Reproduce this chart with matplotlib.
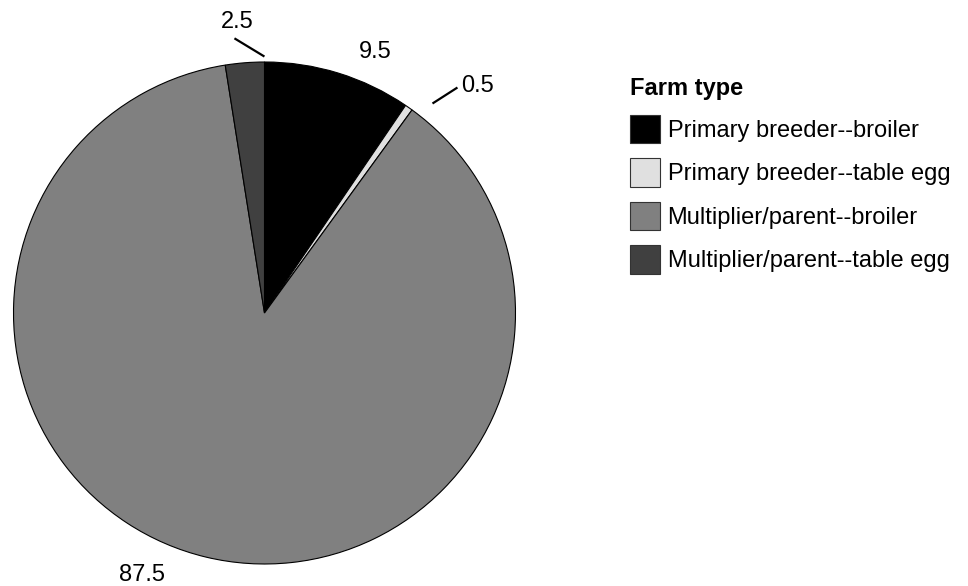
import numpy as np
import matplotlib.pyplot as plt
from matplotlib.patches import Patch

plt.rcParams['font.family'] = ['Liberation Sans', 'DejaVu Sans']

# Data
farm_types = ['Primary breeder--broiler', 'Primary breeder--table egg',
              'Multiplier/parent--broiler', 'Multiplier/parent--table egg']
shares = [9.5, 0.5, 87.5, 2.5]
colors = ['#000000', '#e0e0e0', '#808080', '#404040']

fig = plt.figure(figsize=(9.68, 5.86), dpi=100)
ax = fig.add_axes([13 / 968, 22 / 586, 503 / 968, 502 / 586])
ax.pie(shares, colors=colors, startangle=90, counterclock=False,
       wedgeprops=dict(edgecolor='black', linewidth=0.8))
ax.set_xlim(-1, 1)
ax.set_ylim(-1, 1)
ax.set_aspect('equal')
ax.axis('off')

# value labels (text positions in data units of the pie)
lab_pos = [(0.442, 1.04), (0.85, 0.905), (-0.49, -1.045), (-0.11, 1.16)]
leaders = [None, ((0.673, 0.837), (0.765, 0.896)), None,
           ((-0.004, 1.024), (-0.116, 1.092))]
for v, (x, y), ld in zip(shares, lab_pos, leaders):
    ax.text(x, y, f'{v:.1f}', fontsize=17, ha='center', va='center',
            clip_on=False)
    if ld is not None:
        ax.plot([ld[0][0], ld[1][0]], [ld[0][1], ld[1][1]], color='black',
                linewidth=1.6, clip_on=False)

handles = [Patch(facecolor=c, edgecolor='#333333', linewidth=0.8) for c in colors]
leg = fig.legend(handles, farm_types, loc='upper left',
                 bbox_to_anchor=(630 / 968, 1 - 77 / 586),
                 frameon=False, fontsize=17, title='Farm type',
                 title_fontproperties={'weight': 'bold', 'size': 17},
                 alignment='left', handlelength=1.27, handleheight=1.5,
                 handletextpad=0.32, labelspacing=0.62, borderpad=0,
                 borderaxespad=0)

fig.savefig('out.png', dpi=100)
